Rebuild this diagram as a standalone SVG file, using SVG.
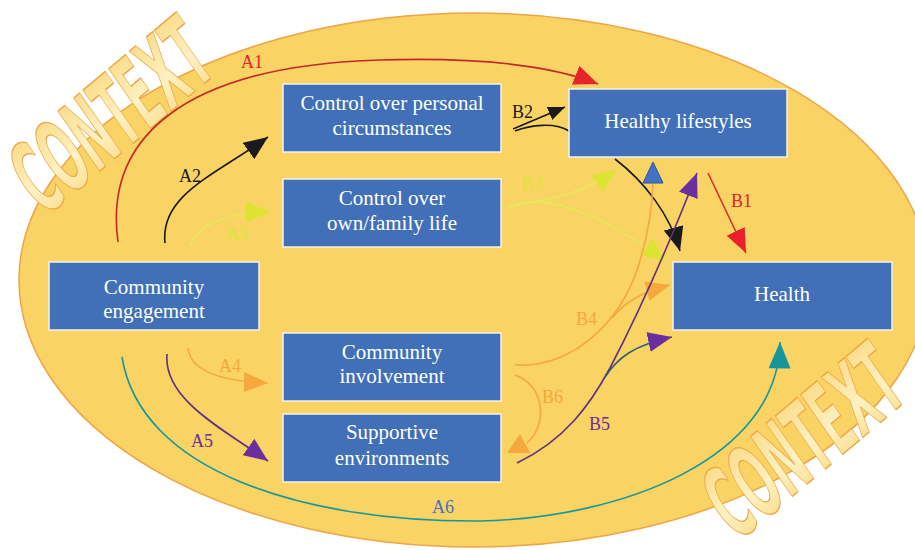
<svg xmlns="http://www.w3.org/2000/svg" width="915" height="550" viewBox="0 0 915 550">
<style>
.box{fill:#4170B8;stroke:#F2F2F2;stroke-width:1.5}
.bt{font-family:"Liberation Serif","Times New Roman",serif;font-size:21px;fill:#FFFFFF;text-anchor:middle}
.lb{font-family:"Liberation Serif","Times New Roman",serif;font-size:18px}
.ln{fill:none;stroke-width:1.6}
.ctx{font-family:"DejaVu Sans","Liberation Sans",sans-serif;font-weight:bold;font-size:100px;fill:url(#cg);stroke:#EDA545;stroke-width:1.4;stroke-linejoin:round}
</style>
<defs>
<linearGradient id="cg" x1="0" y1="0" x2="0" y2="1">
<stop offset="0" stop-color="#F9D674"/>
<stop offset="0.55" stop-color="#FEF1C4"/>
<stop offset="1" stop-color="#F9D674"/>
</linearGradient>
<marker id="mRed" markerUnits="userSpaceOnUse" viewBox="0 0 24 20" refX="24" refY="10" markerWidth="24" markerHeight="20" orient="auto"><path d="M0,0 L24,10 L0,20 z" fill="#E8212A"/></marker>
<marker id="mBlack" markerUnits="userSpaceOnUse" viewBox="0 0 24 20" refX="24" refY="10" markerWidth="24" markerHeight="20" orient="auto"><path d="M0,0 L24,10 L0,20 z" fill="#1A1A1A"/></marker>
<marker id="mBlackS" markerUnits="userSpaceOnUse" viewBox="0 0 24 20" refX="24" refY="10" markerWidth="17" markerHeight="14" orient="auto"><path d="M0,0 L24,10 L0,20 z" fill="#1A1A1A"/></marker>
<marker id="mYel" markerUnits="userSpaceOnUse" viewBox="0 0 24 20" refX="24" refY="10" markerWidth="24" markerHeight="20" orient="auto"><path d="M0,0 L24,10 L0,20 z" fill="#DDE332"/></marker>
<marker id="mOr" markerUnits="userSpaceOnUse" viewBox="0 0 24 20" refX="24" refY="10" markerWidth="24" markerHeight="20" orient="auto"><path d="M0,0 L24,10 L0,20 z" fill="#F4A83E"/></marker>
<marker id="mPur" markerUnits="userSpaceOnUse" viewBox="0 0 24 20" refX="24" refY="10" markerWidth="24" markerHeight="20" orient="auto"><path d="M0,0 L24,10 L0,20 z" fill="#6A2E9E"/></marker>
<marker id="mTeal" markerUnits="userSpaceOnUse" viewBox="0 0 24 20" refX="24" refY="10" markerWidth="28" markerHeight="22" orient="auto"><path d="M0,0 L24,10 L0,20 z" fill="#16959C"/></marker>
</defs>

<ellipse cx="474" cy="280" rx="455" ry="267" fill="#F9D363" stroke="#EDA545" stroke-width="1.5"/>

<g id="context">
<text class="ctx" x="0" y="0" textLength="228" lengthAdjust="spacingAndGlyphs" transform="translate(44,218) rotate(-40) skewX(-5)">CONTEXT</text>
<text class="ctx" x="0" y="0" textLength="226" lengthAdjust="spacingAndGlyphs" transform="translate(737,543) rotate(-40) skewX(-5)">CONTEXT</text>
</g>

<g id="connectors">
<path class="ln" d="M118,242 C104,140 180,66 380,60 C480,57 550,65 598,84" stroke="#C4292A" marker-end="url(#mRed)"/>
<path class="ln" d="M165,243 C160,195 215,175 268,137" stroke="#1A1A1A" stroke-width="2" marker-end="url(#mBlack)"/>
<path class="ln" d="M190,246 C198,226 225,212 270,212" stroke="#E6EA5A" marker-end="url(#mYel)"/>
<path class="ln" d="M188,348 C190,368 215,381 268,383" stroke="#F4A83E" marker-end="url(#mOr)"/>
<path class="ln" d="M167,354 C163,400 225,430 268,461" stroke="#5E2F84" marker-end="url(#mPur)"/>
<path class="ln" d="M122,357 C140,470 300,522 480,521 C620,518 778,460 780,342" stroke="#16959C" marker-end="url(#mTeal)"/>
<path class="ln" d="M708,173 L746,253" stroke="#D8302C" marker-end="url(#mRed)"/>
<path class="ln" d="M513,129 L565,107" stroke="#1A1A1A" marker-end="url(#mBlackS)"/>
<path class="ln" d="M515,131 C530,125 555,122 569,131" stroke="#1A1A1A"/>
<path class="ln" d="M615,159 C645,182 670,215 680,251" stroke="#1A1A1A" stroke-width="2" marker-end="url(#mBlack)"/>
<path class="ln" d="M508,208 C530,198 565,205 617,170" stroke="#E6EA5A" marker-end="url(#mYel)"/>
<path class="ln" d="M508,208 C545,188 610,220 666,261" stroke="#E6EA5A" marker-end="url(#mYel)"/>
<path class="ln" d="M515,365 C575,368 620,320 637,270 C647,240 652,215 653,183" stroke="#F4A83E"/>
<polygon points="653,162 643,183 663,183" fill="#4472C4" stroke="#2F5597" stroke-width="1"/>
<path class="ln" d="M612,318 C625,302 640,293 670,285" stroke="#F4A83E" marker-end="url(#mOr)"/>
<path class="ln" d="M517,463 C565,440 590,405 610,368 C635,320 665,255 697,173" stroke="#5E2F84" marker-end="url(#mPur)"/>
<path class="ln" d="M605,377 C618,357 635,345 672,337" stroke="#2E5E74" stroke-width="2" marker-end="url(#mPur)"/>
<path class="ln" d="M515,375 C545,385 548,425 527,443" stroke="#F4A83E"/>
<polygon points="507,453 530,453 520,434" fill="#F4A83E"/>
</g>

<g id="labels">
<text class="lb" x="241" y="68" fill="#E8212A">A1</text>
<text class="lb" x="179" y="182" fill="#1A1A1A">A2</text>
<text class="lb" x="226" y="240" fill="#DDE33A">A3</text>
<text class="lb" x="219" y="372" fill="#F4A83E">A4</text>
<text class="lb" x="191" y="447" fill="#6A2E9E">A5</text>
<text class="lb" x="432" y="513" fill="#4472C4">A6</text>
<text class="lb" x="731" y="207" fill="#E8212A">B1</text>
<text class="lb" x="512" y="118" fill="#1A1A1A">B2</text>
<text class="lb" x="522" y="190" fill="#DDE33A">B3</text>
<text class="lb" x="576" y="325" fill="#F4A83E">B4</text>
<text class="lb" x="589" y="430" fill="#6A2E9E">B5</text>
<text class="lb" x="542" y="403" fill="#F4A83E">B6</text>
</g>

<g id="n-control-personal">
<rect class="box" x="283" y="84" width="218" height="68"/>
<text class="bt" x="392" y="110">Control over personal</text>
<text class="bt" x="392" y="135">circumstances</text>
</g>
<g id="n-healthy-lifestyles">
<rect class="box" x="569" y="89" width="218" height="68"/>
<text class="bt" x="678" y="128">Healthy lifestyles</text>
</g>
<g id="n-control-family">
<rect class="box" x="283" y="179" width="218" height="68"/>
<text class="bt" x="392" y="205">Control over</text>
<text class="bt" x="392" y="230">own/family life</text>
</g>
<g id="n-community-engagement">
<rect class="box" x="49" y="262" width="210" height="68"/>
<text class="bt" x="154" y="294">Community</text>
<text class="bt" x="154" y="318">engagement</text>
</g>
<g id="n-health">
<rect class="box" x="673" y="262" width="219" height="68"/>
<text class="bt" x="782" y="301">Health</text>
</g>
<g id="n-community-involvement">
<rect class="box" x="283" y="333" width="218" height="68"/>
<text class="bt" x="392" y="359">Community</text>
<text class="bt" x="392" y="383">involvement</text>
</g>
<g id="n-supportive">
<rect class="box" x="283" y="414" width="218" height="68"/>
<text class="bt" x="392" y="439">Supportive</text>
<text class="bt" x="392" y="465">environments</text>
</g>
</svg>
